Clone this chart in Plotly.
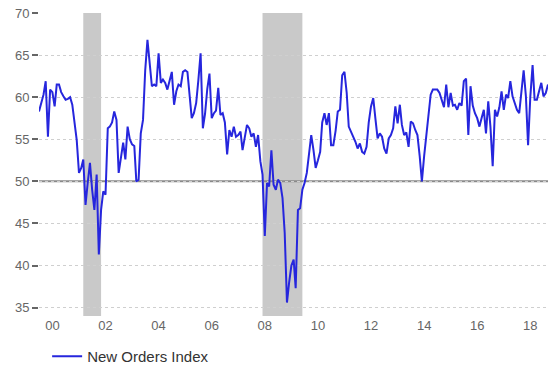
import pandas as pd
import plotly.graph_objects as go

start_month = "1999-07-01"
new_orders = [
    58.3, 59.3, 60.3, 61.9, 55.3, 60.9, 60.6, 58.9, 61.5, 61.5,
    60.6, 60.1, 59.7, 59.8, 60.0, 59.1, 56.9, 54.9, 51.0, 51.6,
    52.6, 47.2, 49.8, 52.2, 49.0, 46.6, 50.8, 41.3, 46.6, 48.8,
    48.4, 56.3, 56.5, 57.0, 58.3, 57.3, 51.0, 53.0, 54.6, 52.6,
    56.5, 55.0, 54.4, 54.2, 50.0, 50.2, 55.7, 57.3, 63.2, 66.8,
    64.0, 61.3, 61.5, 61.3, 65.2, 61.7, 62.1, 61.7, 60.9, 62.0,
    63.0, 59.1, 60.7, 61.5, 61.3, 63.0, 63.2, 63.0, 60.1, 57.5,
    58.1, 59.3, 62.0, 65.2, 56.3, 58.0, 61.0, 62.8, 57.5, 58.1,
    58.4, 61.1, 57.9, 58.1, 57.0, 53.2, 56.1, 55.3, 56.5, 55.3,
    55.5, 55.9, 53.7, 55.1, 56.7, 56.3, 55.3, 55.7, 54.1, 55.5,
    52.4, 50.8, 43.5, 49.8, 49.4, 53.7, 49.6, 49.0, 50.2, 49.8,
    48.0, 43.9, 35.6, 38.0, 40.0, 40.7, 37.3, 46.6, 46.8, 49.0,
    49.8, 51.0, 53.5, 55.5, 53.7, 51.6, 52.5, 53.5, 57.0, 58.1,
    56.7, 58.1, 54.3, 54.3, 56.0, 58.3, 58.5, 62.6, 63.0, 60.5,
    56.5, 55.9, 55.3, 54.7, 53.9, 54.5, 53.5, 53.3, 54.1, 57.0,
    58.9, 59.9, 57.5, 55.1, 55.7, 55.3, 53.9, 53.3, 55.1, 55.5,
    56.3, 58.9, 56.9, 59.1, 56.7, 55.5, 55.8, 54.1, 57.1, 56.9,
    56.1, 55.5, 53.0, 50.0, 53.0, 55.3, 58.1, 60.3, 60.9, 60.9,
    60.9, 60.5, 59.7, 58.8, 61.5, 58.8, 60.5, 59.0, 59.1, 58.5,
    59.3, 59.0, 61.9, 62.2, 55.5, 61.3, 59.0, 58.1, 57.5, 56.5,
    57.5, 58.5, 55.7, 59.5, 56.5, 51.8, 58.5, 57.7, 58.8, 60.7,
    58.5, 60.3, 59.9, 61.9, 60.1, 59.3, 58.5, 58.1, 60.9, 63.2,
    60.1, 54.3, 60.1, 63.8, 59.7, 59.7, 60.7, 61.7, 60.1, 60.5,
    61.5,
]
dates = pd.date_range(start_month, periods=len(new_orders), freq="MS")

recession_starts = ["2001-03-01", "2007-12-01"]
recession_ends = ["2001-11-01", "2009-06-01"]
reference_level = 50
y_ticks = [35, 40, 45, 50, 55, 60, 65, 70]
series_name = "New Orders Index"

fig = go.Figure()
fig.add_trace(go.Scatter(
    x=dates, y=new_orders, mode="lines", name=series_name,
    line=dict(color="#2626dd", width=2),
))

for s, e in zip(recession_starts, recession_ends):
    fig.add_shape(type="rect", xref="x", yref="paper", x0=s, x1=e, y0=0, y1=1,
                  fillcolor="#c9c9c9", line=dict(width=0), layer="below")
fig.add_shape(type="line", xref="paper", yref="y", x0=0, x1=1,
              y0=reference_level, y1=reference_level,
              line=dict(color="#8a8a8a", width=2), layer="between")

fig.update_layout(
    width=548, height=366,
    margin=dict(l=39, r=0, t=13, b=50),
    paper_bgcolor="white", plot_bgcolor="white",
    font=dict(family="Liberation Sans, Arial, sans-serif", color="#666666"),
    showlegend=True,
    legend=dict(orientation="h", xref="container", yref="container",
                x=0.086, y=0.026, xanchor="left", yanchor="middle",
                font=dict(size=15, color="#333333"), bgcolor="rgba(0,0,0,0)"),
)
fig.update_xaxes(
    type="date", range=[dates[0], dates[-1]],
    tick0="2000-01-01", dtick="M24", tickformat="%y",
    showgrid=False, zeroline=False, showline=False, ticks="",
    tickfont=dict(size=13, color="#666666"),
)
fig.update_yaxes(
    range=[34, 70], tickvals=y_ticks,
    showgrid=True, gridcolor="#cfcfcf", griddash="dot", gridwidth=1,
    zeroline=False, showline=False,
    ticks="outside", ticklen=6, tickwidth=1.5, tickcolor="#666666",
    tickfont=dict(size=13, color="#666666"),
)

fig.write_html("out.html")
